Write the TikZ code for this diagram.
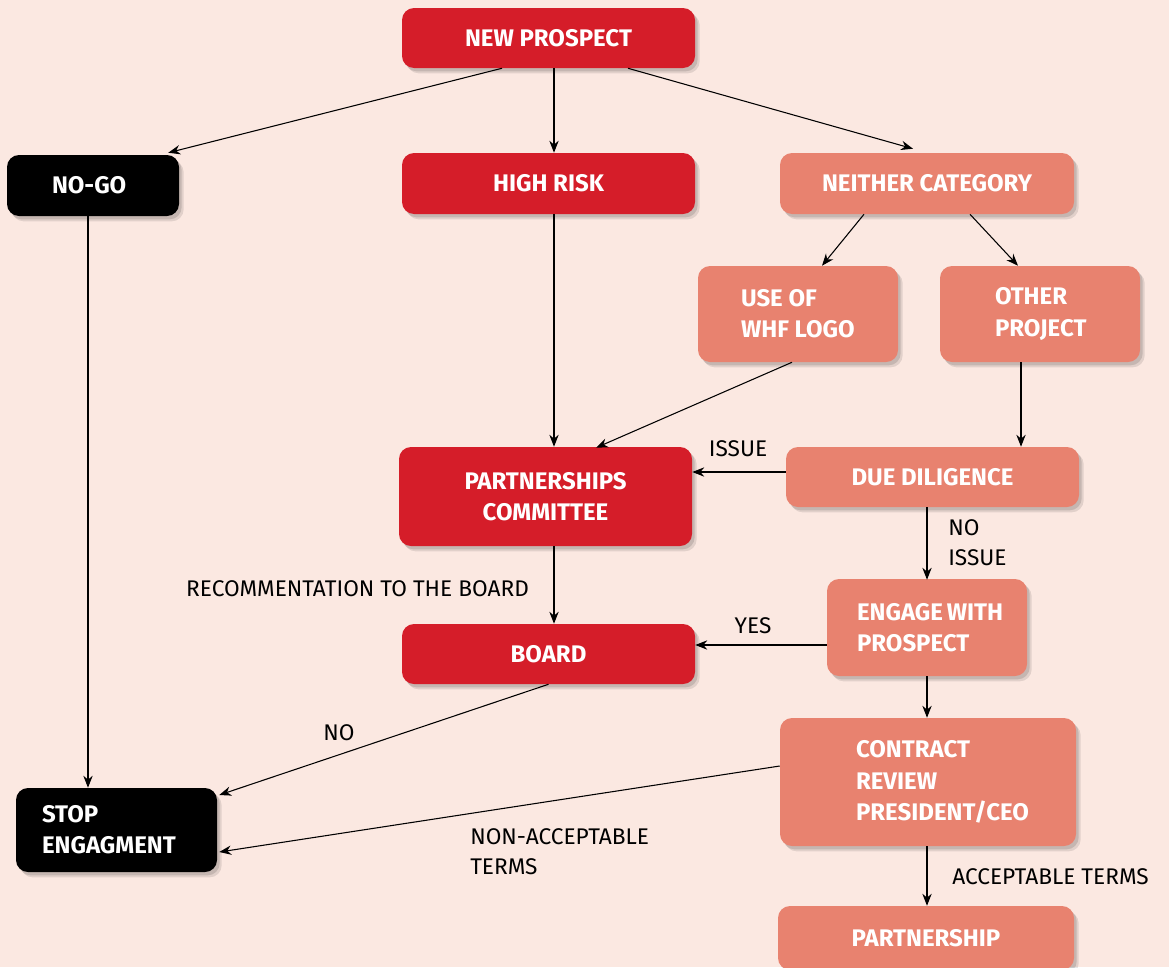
\documentclass[tikz,border=0pt]{standalone}
\usepackage{fontspec}
\setmainfont{Fira Sans}
\usetikzlibrary{arrows.meta,calc,shadows}
\definecolor{bg}{HTML}{FBE8E1}
\definecolor{wred}{HTML}{D51D29}
\definecolor{wsalmon}{HTML}{E8826F}
\begin{document}
\begin{tikzpicture}[x=0.75pt,y=-0.75pt,
  box/.style={rectangle, rounded corners=9pt, text=white, inner sep=0pt,
    font=\bfseries\fontsize{18}{23.5}\selectfont,
    general shadow={fill=black, opacity=0.10, shadow xshift=3.5pt, shadow yshift=-4pt},
    general shadow={fill=black, opacity=0.12, shadow xshift=2pt, shadow yshift=-2.5pt}},
  redf/.style={fill=wred},
  salf/.style={fill=wsalmon},
  blkf/.style={fill=black},
  conn/.style={draw=black, line width=0.8pt, -{Stealth[length=9pt,width=7pt]}},
  lab/.style={font=\fontsize{17}{22.5}\selectfont, text=black, inner sep=0pt}]
\fill[bg] (0,0) rectangle (1169,967);
\useasboundingbox (0,0) rectangle (1169,967);

\node[box,redf,minimum width=219.75pt,minimum height=45pt] (np) at (548.5,38) {NEW PROSPECT};
\node[box,blkf,minimum width=129pt,minimum height=45.75pt,text width=61.5pt,inner xsep=33.75pt,align=flush left] (nogo) at (93,185.5) {NO-GO};
\node[box,redf,minimum width=219.75pt,minimum height=45.75pt] (hr) at (548.5,183.5) {HIGH RISK};
\node[box,salf,minimum width=220.5pt,minimum height=45.75pt] (nc) at (927,183.5) {NEITHER CATEGORY};
\node[box,salf,minimum width=150pt,minimum height=72pt,text width=85.5pt,inner xsep=32.25pt,align=flush left] (use) at (798,314) {USE OF\\WHF~LOGO};
\node[box,salf,minimum width=150pt,minimum height=72pt,text width=67.5pt,inner xsep=41.25pt,align=flush left] (oth) at (1040,314) {OTHER\\PROJECT};
\node[box,redf,minimum width=219.75pt,minimum height=74.25pt,align=center] (pc) at (545.5,496.5) {PARTNERSHIPS\\COMMITTEE};
\node[box,salf,minimum width=219.75pt,minimum height=45pt] (dd) at (932.5,477) {DUE DILIGENCE};
\node[box,redf,minimum width=219.75pt,minimum height=45pt] (bd) at (548.5,654) {BOARD};
\node[box,salf,minimum width=150pt,minimum height=72.75pt,text width=105pt,inner xsep=22.5pt,align=flush left] (eng) at (927,627.5) {ENGAGE~WITH\\PROSPECT};
\node[box,salf,minimum width=222pt,minimum height=96pt,text width=108pt,inner xsep=57pt,align=flush left] (ct) at (928,782) {CONTRACT\\REVIEW\\PRESIDENT/CEO};
\node[box,salf,minimum width=222pt,minimum height=48pt] (pt) at (926,938) {PARTNERSHIP};
\node[box,blkf,minimum width=150.75pt,minimum height=63pt,text width=111.75pt,inner xsep=19.5pt,align=flush left] (stop) at (116.5,830) {STOP\\ENGAGMENT};

\draw[conn] ($(np.south)+(-46.5,0)$) -- ($(nogo.north east)+(-11,-2)$);
\draw[conn] ($(np.south)+(5.5,0)$) -- ($(hr.north)+(5.5,0)$);
\draw[conn] ($(np.south)+(79.5,0)$) -- ($(nc.north)+(-14,-4)$);
\draw[conn] ($(nc.south)+(-63,0)$) -- ($(use.north)+(24,0)$);
\draw[conn] ($(nc.south)+(43,0)$) -- ($(oth.north)+(-22,0)$);
\draw[conn] ($(nogo.south)+(-5,0)$) -- ($(stop.north)+(-28.5,0)$);
\draw[conn] ($(hr.south)+(5.5,0)$) -- ($(pc.north)+(8.5,0)$);
\draw[conn] ($(use.south)+(-6,0)$) -- ($(pc.north)+(50.5,1)$);
\draw[conn] ($(oth.south)+(-19,0)$) -- ($(dd.north)+(88.5,0)$);
\draw[conn] ($(dd.west)+(0,-5)$) -- ($(pc.east)+(0,-24.5)$);
\draw[conn] ($(dd.south)+(-5.5,0)$) -- ($(eng.north)+(0,1)$);
\draw[conn] ($(pc.south)+(8.5,0)$) -- ($(bd.north)+(5.5,0)$);
\draw[conn] ($(eng.west)+(0,17.5)$) -- ($(bd.east)+(0,-9)$);
\draw[conn] (bd.south) -- ($(stop.east)+(2,-35)$);
\draw[conn] ($(ct.west)+(0,-16)$) -- ($(stop.east)+(2,22)$);
\draw[conn] (eng.south) -- ($(ct.north)+(-1,0)$);
\draw[conn] ($(ct.south)+(-1,0)$) -- ($(pt.north)+(1,0)$);

\node[lab] (l1) at (738,449) {ISSUE};
\node[lab,anchor=west,align=left] (l2) at (948,543) {NO\\ISSUE};
\node[lab] (l3) at (357.5,589) {RECOMMENTATION TO THE BOARD};
\node[lab] (l4) at (753,626) {YES};
\node[lab] (l5) at (339,733) {NO};
\node[lab,anchor=west,align=left] (l6) at (470,851.5) {NON-ACCEPTABLE\\TERMS};
\node[lab,anchor=west] (l7) at (952,877) {ACCEPTABLE TERMS};
\end{tikzpicture}
\end{document}
